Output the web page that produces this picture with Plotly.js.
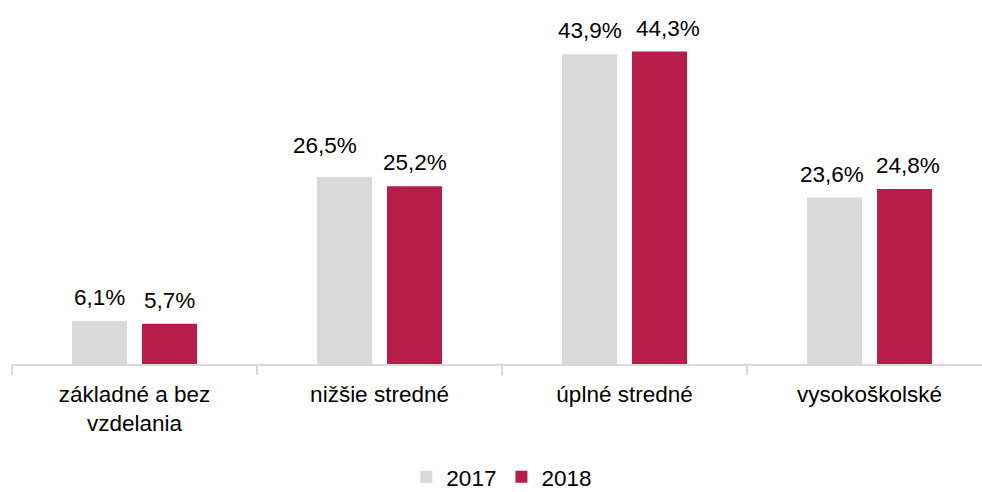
<!DOCTYPE html>
<html>
<head>
<meta charset="utf-8">
<script src="https://cdn.plot.ly/plotly-3.0.1.min.js"></script>
<style>html,body{margin:0;padding:0;background:#fff;}#chart{width:982px;height:492px;}</style>
</head>
<body>
<div id="chart"></div>
<script>
var categories = ["základné a bez<br>vzdelania", "nižšie stredné", "úplné stredné", "vysokoškolské"];
var seriesNames = ["2017", "2018"];
var values2017 = [6.1, 26.5, 43.9, 23.6];
var values2018 = [5.7, 25.2, 44.3, 24.8];
var labels2017 = ["6,1%", "26,5%", "43,9%", "23,6%"];
var labels2018 = ["5,7%", "25,2%", "44,3%", "24,8%"];

var FONT = "'Liberation Sans Narrow', 'Arial Narrow', 'Liberation Sans', Arial, sans-serif";
var FS = 22.5;
var colors = ["#d9d9d9", "#b81c4b"];
var bargap = 0.4286;
var slot = (1 - bargap) / 2;

var traces = [
  {type: "bar", name: seriesNames[0], x: categories, y: values2017, marker: {color: colors[0]}, hoverinfo: "none"},
  {type: "bar", name: seriesNames[1], x: categories, y: values2018, marker: {color: colors[1]}, hoverinfo: "none"}
];

// small manual nudges of individual labels (px), as in the original
var nudge2017 = {1: [-20, 8], 3: [-3, 0]};
var nudge2018 = {2: [8, 0], 3: [3, 0]};

var annotations = [];
function addLabels(vals, labs, side, nudges) {
  for (var i = 0; i < vals.length; i++) {
    var n = nudges[i] || [0, 0];
    annotations.push({
      x: i + side * slot / 2, y: vals[i], xref: "x", yref: "y",
      text: labs[i], showarrow: false, yanchor: "bottom", xanchor: "center",
      xshift: n[0], yshift: 9 + n[1],
      font: {family: FONT, size: FS, color: "#000"}
    });
  }
}
addLabels(values2017, labels2017, -1, nudge2017);
addLabels(values2018, labels2018, 1, nudge2018);

var layout = {
  width: 982, height: 492,
  margin: {l: 12, r: 0, t: 0, b: 128, pad: 0},
  paper_bgcolor: "#fff", plot_bgcolor: "#fff",
  barmode: "group", bargap: bargap, bargroupgap: 0.214,
  font: {family: FONT, size: FS, color: "#000"},
  xaxis: {
    type: "category", range: [-0.5, 3.459], fixedrange: true,
    showline: true, linecolor: "#d9d9d9", linewidth: 2,
    ticks: "outside", tickson: "boundaries", ticklen: 9, tickcolor: "#d9d9d9", tickwidth: 1.5,
    ticklabelstandoff: 9,
    showgrid: false, zeroline: false,
    tickfont: {family: FONT, size: FS, color: "#000"}
  },
  yaxis: {range: [0, 51.6], visible: false, showgrid: false, zeroline: false, fixedrange: true},
  showlegend: true,
  legend: {
    orientation: "h", x: 0.505, xanchor: "center", yref: "container", y: 0.03, yanchor: "middle",
    font: {family: FONT, size: FS, color: "#000"}, itemclick: false, traceorder: "normal"
  },
  annotations: annotations
};

Plotly.newPlot("chart", traces, layout, {displayModeBar: false, staticPlot: true});
</script>
</body>
</html>
